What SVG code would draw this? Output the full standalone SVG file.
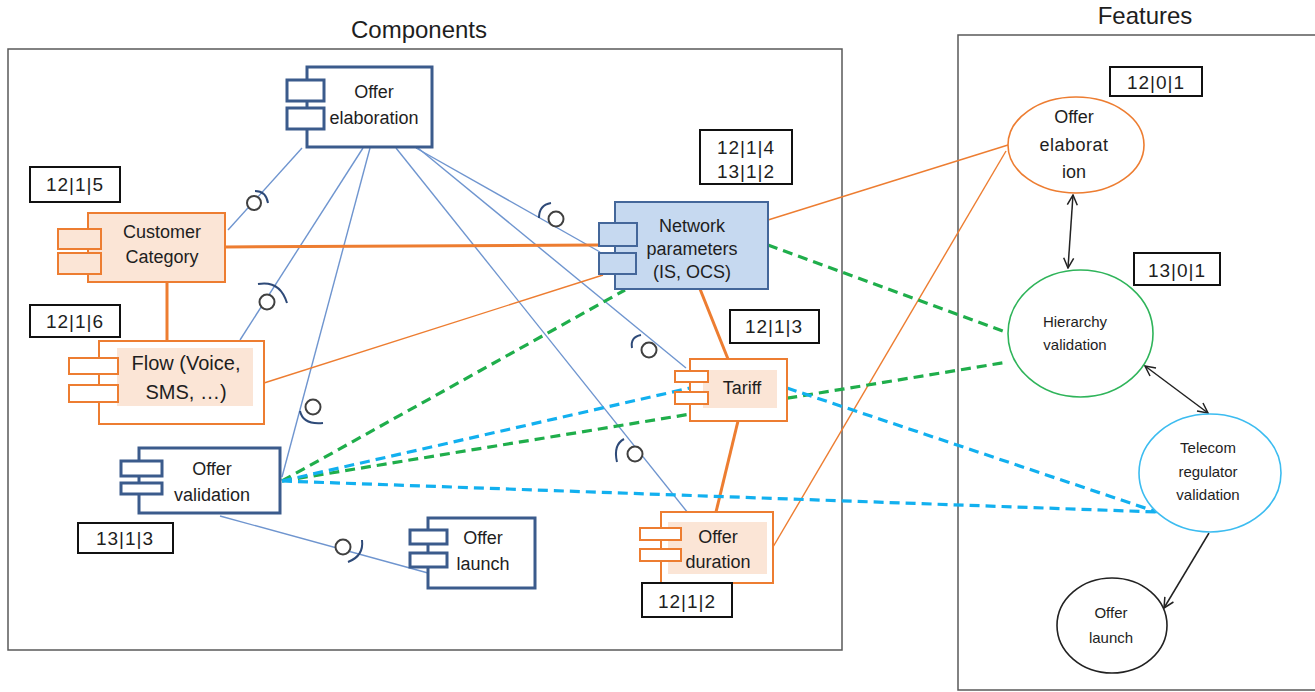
<svg xmlns="http://www.w3.org/2000/svg" width="1315" height="692" viewBox="0 0 1315 692">
<defs>
<style>
text{font-family:"Liberation Sans",Arial,sans-serif;fill:#1e1e1e;text-anchor:middle}
.title{font-size:24px}
.lbl{font-size:18px}
.big{font-size:20px}
.ft{font-size:15px}
.code{font-size:19px;letter-spacing:1px}
.frame{fill:none;stroke:#595959;stroke-width:1.5}
.cb{fill:#fff;stroke:#3b5b8c;stroke-width:3}
.co{fill:#fff;stroke:#ed7d31;stroke-width:2}
.cop{fill:#fbe5d6;stroke:#ed7d31;stroke-width:2}
.peach{fill:#fbe5d6;stroke:none}
.cn{fill:#c6d9f0;stroke:#44679a;stroke-width:2}
.codebox{fill:#fff;stroke:#111;stroke-width:2}
.bl{fill:none;stroke:#6f95cf;stroke-width:1.4}
.ot{fill:none;stroke:#ed7d31;stroke-width:3}
.on{fill:none;stroke:#ed7d31;stroke-width:1.4}
.gd{fill:none;stroke:#1fae4b;stroke-width:3.2;stroke-dasharray:10 6}
.bd{fill:none;stroke:#12b0ef;stroke-width:3.2;stroke-dasharray:10 6}
.ball{fill:#fff;stroke:#404040;stroke-width:2}
.sock{fill:none;stroke:#2e4a78;stroke-width:2}
.ar{fill:none;stroke:#222;stroke-width:1.5}
</style>
<marker id="arr" viewBox="0 0 12 12" refX="11" refY="6" markerWidth="12" markerHeight="12" orient="auto-start-reverse" markerUnits="userSpaceOnUse"><path d="M1,1 L11,6 L1,11" fill="none" stroke="#222" stroke-width="1.5"/></marker>
</defs>
<rect width="1315" height="692" fill="#fff"/>

<g id="frames">
<rect class="frame" x="8" y="49" width="834" height="601"/>
<text class="title" x="419" y="38">Components</text>
<rect class="frame" x="958" y="35" width="362" height="655"/>
<text class="title" x="1145" y="24">Features</text>
</g>

<g id="connectors">
<polyline class="bl" points="302,148 228,230"/>
<polyline class="bl" points="363,148 240,340"/>
<polyline class="bl" points="370,148 282,477"/>
<polyline class="bl" points="396,148 688,513"/>
<polyline class="bl" points="418,148 686,368"/>
<polyline class="bl" points="416,148 600,252"/>
<polyline class="bl" points="220,516 428,573"/>
<line class="ot" x1="225" y1="247" x2="599" y2="245"/>
<line class="ot" x1="167" y1="282" x2="167" y2="341"/>
<line class="ot" x1="700" y1="289" x2="728" y2="359"/>
<line class="ot" x1="738" y1="421" x2="716" y2="512"/>
<line class="on" x1="264" y1="383" x2="603" y2="275"/>
<line class="on" x1="768" y1="220" x2="1008" y2="145"/>
<line class="on" x1="773" y1="547" x2="1006" y2="151"/>
<line class="gd" x1="282" y1="481" x2="625" y2="290"/>
<line class="gd" x1="282" y1="481" x2="1008" y2="362"/>
<line class="gd" x1="768" y1="245" x2="1008" y2="333"/>
<line class="bd" x1="282" y1="481" x2="690" y2="388"/>
<line class="bd" x1="787" y1="388" x2="1157" y2="512"/>
<line class="bd" x1="282" y1="481" x2="1157" y2="512"/>
<circle class="ball" cx="254" cy="203" r="7"/><path class="sock" d="M255,191 Q266,191 268,203"/>
<circle class="ball" cx="267" cy="302" r="7.5"/><path class="sock" d="M258,284 Q280,280 287,303"/>
<circle class="ball" cx="313" cy="407" r="7.5"/><path class="sock" d="M300,411 Q303,425 323,423"/>
<circle class="ball" cx="556" cy="219" r="7.5"/><path class="sock" d="M539,218 Q539,205 551,203"/>
<circle class="ball" cx="649" cy="350" r="7.5"/><path class="sock" d="M632,348 Q630,337 641,335"/>
<circle class="ball" cx="635" cy="454" r="7.5"/><path class="sock" d="M617,462 Q613,445 624,439"/>
<circle class="ball" cx="343" cy="547" r="7.5"/><path class="sock" d="M362,540 Q364,556 348,562"/>
<line class="ar" x1="1073" y1="195" x2="1068" y2="268" marker-start="url(#arr)" marker-end="url(#arr)"/>
<line class="ar" x1="1145" y1="366" x2="1208" y2="413" marker-start="url(#arr)" marker-end="url(#arr)"/>
<line class="ar" x1="1209" y1="533" x2="1164" y2="608" marker-end="url(#arr)"/>
</g>

<g id="offer-elaboration">
<rect class="cb" x="307" y="67" width="125" height="80"/>
<rect class="cb" x="287" y="80" width="37" height="21"/>
<rect class="cb" x="287" y="108" width="37" height="21"/>
<text class="lbl" x="374" y="98">Offer</text>
<text class="lbl" x="374" y="124">elaboration</text>
</g>

<g id="customer-category">
<rect class="cop" x="88" y="213" width="137" height="69"/>
<rect class="cop" x="58" y="229" width="43" height="20"/>
<rect class="cop" x="58" y="253" width="43" height="21"/>
<text class="lbl" x="162" y="238">Customer</text>
<text class="lbl" x="162" y="263">Category</text>
</g>

<g id="flow">
<rect class="co" x="99" y="341" width="165" height="83"/>
<rect class="peach" x="117" y="348" width="136" height="58"/>
<rect class="co" x="69" y="358" width="49" height="16"/>
<rect class="co" x="69" y="385" width="49" height="17"/>
<text class="big" x="186" y="370">Flow (Voice,</text>
<text class="big" x="186" y="399">SMS, …)</text>
</g>

<g id="network-parameters">
<rect class="cn" x="615" y="202" width="153" height="87"/>
<rect class="cn" x="599" y="223" width="38" height="23"/>
<rect class="cn" x="599" y="253" width="37" height="21"/>
<text class="lbl" x="692" y="232">Network</text>
<text class="lbl" x="692" y="255">parameters</text>
<text class="lbl" x="692" y="278">(IS, OCS)</text>
</g>

<g id="tariff">
<rect class="co" x="690" y="359" width="97" height="62"/>
<rect class="peach" x="703" y="370" width="74" height="38"/>
<rect class="co" x="675" y="371" width="33" height="11"/>
<rect class="co" x="675" y="392" width="33" height="12"/>
<text class="lbl" x="742" y="394">Tariff</text>
</g>

<g id="offer-duration">
<rect class="co" x="661" y="512" width="112" height="71"/>
<rect class="peach" x="668" y="522" width="99" height="52"/>
<rect class="co" x="640" y="528" width="41" height="12"/>
<rect class="co" x="640" y="549" width="41" height="12"/>
<text class="lbl" x="718" y="543">Offer</text>
<text class="lbl" x="718" y="568">duration</text>
</g>

<g id="offer-validation">
<rect class="cb" x="139" y="448" width="141" height="65"/>
<rect class="cb" x="121" y="461" width="41" height="15"/>
<rect class="cb" x="121" y="483" width="41" height="11"/>
<text class="lbl" x="212" y="475">Offer</text>
<text class="lbl" x="212" y="501">validation</text>
</g>

<g id="offer-launch">
<rect class="cb" x="428" y="518" width="107" height="70"/>
<rect class="cb" x="410" y="530" width="37" height="14"/>
<rect class="cb" x="410" y="553" width="37" height="14"/>
<text class="lbl" x="483" y="544">Offer</text>
<text class="lbl" x="483" y="570">launch</text>
</g>

<g id="codes">
<rect class="codebox" x="30" y="167" width="90" height="35"/><text class="code" x="75" y="191">12|1|5</text>
<rect class="codebox" x="30" y="305" width="90" height="32"/><text class="code" x="75" y="328">12|1|6</text>
<rect class="codebox" x="78" y="523" width="95" height="30"/><text class="code" x="125" y="545">13|1|3</text>
<rect class="codebox" x="700" y="130" width="92" height="54"/><text class="code" x="746" y="154">12|1|4</text><text class="code" x="746" y="178">13|1|2</text>
<rect class="codebox" x="730" y="310" width="89" height="33"/><text class="code" x="774" y="333">12|1|3</text>
<rect class="codebox" x="642" y="583" width="90" height="34"/><text class="code" x="687" y="608">12|1|2</text>
<rect class="codebox" x="1110" y="67" width="92" height="29"/><text class="code" x="1156" y="89">12|0|1</text>
<rect class="codebox" x="1134" y="253" width="86" height="32"/><text class="code" x="1177" y="277">13|0|1</text>
</g>

<g id="feature-offer-elaboration">
<ellipse cx="1076" cy="145" rx="68" ry="48" fill="#fff" stroke="#ed7d31" stroke-width="1.6"/>
<text class="lbl" x="1074" y="123">Offer</text>
<text class="lbl" x="1074" y="151" letter-spacing="0.5">elaborat</text>
<text class="lbl" x="1074" y="178">ion</text>
</g>

<g id="feature-hierarchy-validation">
<ellipse cx="1080.5" cy="333.5" rx="72.5" ry="63.5" fill="#fff" stroke="#2fb45a" stroke-width="1.6"/>
<text class="ft" x="1075" y="327">Hierarchy</text>
<text class="ft" x="1075" y="350">validation</text>
</g>

<g id="feature-telecom">
<ellipse cx="1210" cy="473" rx="71" ry="59" fill="#fff" stroke="#3cbcf0" stroke-width="1.6"/>
<text class="ft" x="1208" y="453">Telecom</text>
<text class="ft" x="1208" y="477">regulator</text>
<text class="ft" x="1208" y="500">validation</text>
</g>

<g id="feature-offer-launch">
<ellipse cx="1112" cy="625.5" rx="55" ry="47.5" fill="#fff" stroke="#222" stroke-width="1.6"/>
<text class="ft" x="1111" y="618">Offer</text>
<text class="ft" x="1111" y="643">launch</text>
</g>
</svg>
